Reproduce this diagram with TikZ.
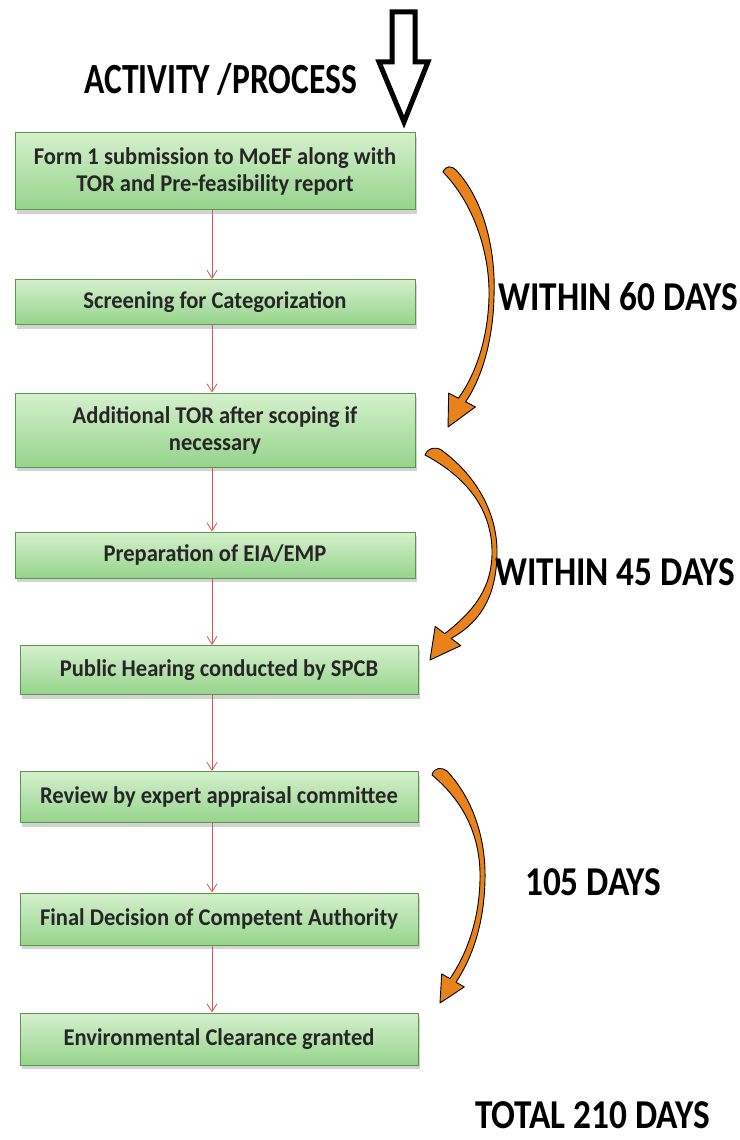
\documentclass[tikz,border=0pt]{standalone}
\usepackage{fontspec}
\setmainfont{Carlito}
\newfontfamily\boxfont[FakeStretch=0.94]{Carlito}
\newfontfamily\headfont[FakeStretch=0.78]{Carlito}
\newfontfamily\dayfont[FakeStretch=0.86]{Carlito}
\usepackage{tikz}
\usetikzlibrary{arrows.meta,shadows}

\definecolor{boxtop}{RGB}{212,240,204}
\definecolor{boxbottom}{RGB}{150,212,140}
\definecolor{boxborder}{RGB}{92,150,72}
\definecolor{flowred}{RGB}{214,84,84}
\definecolor{arrorange}{RGB}{232,130,26}

\tikzset{
  stepbox/.style={draw=boxborder, line width=1pt, top color=boxtop, bottom color=boxbottom,
    minimum width=400pt, inner sep=2pt, align=center, text=black!85,
    font=\boxfont\bfseries\fontsize{24}{27}\selectfont,
    drop shadow={opacity=0.35, shadow xshift=2pt, shadow yshift=-4pt}},
  flow/.style={draw=flowred, line width=0.8pt, -{Straight Barb[length=8pt,width=10pt]}},
  curlarrow/.style={fill=arrorange, draw=black, line width=0.9pt, line join=round},
  daylabel/.style={inner sep=0pt, font=\dayfont\bfseries\fontsize{41}{44}\selectfont}
}

\begin{document}
\begin{tikzpicture}[x=1pt,y=-1pt]
  \useasboundingbox (0,0) rectangle (739,1140);

  \node[daylabel, anchor=base west, font=\headfont\bfseries\fontsize{43}{46}\selectfont] (title) at (84,93) {ACTIVITY /PROCESS};
  % big hollow arrow
  \draw[line width=5pt, fill=white, line join=miter] (392,12) -- (415,12) -- (415,62) -- (428,62)
      -- (404,122) -- (379,62) -- (392,62) -- cycle;

  \node[stepbox, minimum height=77pt] (b1) at (215,171) {Form 1 submission to MoEF along with\\TOR and Pre-feasibility report};
  \node[stepbox, minimum height=45pt] (b2) at (215,302) {Screening for Categorization};
  \node[stepbox, minimum height=74pt] (b3) at (215,430) {Additional TOR after scoping if\\necessary};
  \node[stepbox, minimum height=46pt] (b4) at (215,555) {Preparation of EIA/EMP};
  \node[stepbox, minimum width=398pt, minimum height=49pt] (b5) at (219,670) {Public Hearing conducted by SPCB};
  \node[stepbox, minimum width=398pt, minimum height=51pt] (b6) at (219,797) {Review by expert appraisal committee};
  \node[stepbox, minimum width=398pt, minimum height=52pt] (b7) at (219,919) {Final Decision of Competent Authority};
  \node[stepbox, minimum width=398pt, minimum height=52pt] (b8) at (219,1039) {Environmental Clearance granted};

  \foreach \a/\b in {b1/b2,b2/b3,b3/b4,b4/b5,b5/b6,b6/b7,b7/b8} {
    \draw[flow] (\a.south -| 212,0) -- (\b.north -| 212,0);
  }

  % orange curved arrows
  \filldraw[curlarrow] (443,172) .. controls (446,165) and (452,166) .. (456,170)
      .. controls (484,200) and (496,250) .. (494,297)
      .. controls (493,340) and (482,378) .. (465.6,401.8)
      -- (475.4,406.9) -- (448,427) -- (448.7,393.1) -- (458.4,398.2)
      .. controls (476,374) and (488,338) .. (489,297)
      .. controls (490,255) and (475,205) .. (443,172) -- cycle;
  \filldraw[curlarrow] (425,455) .. controls (428,447) and (438,446) .. (444,452)
      .. controls (478,478) and (498,515) .. (497,555)
      .. controls (496,592) and (484,620) .. (451.2,638.4)
      -- (460.8,645.6) -- (430,660) -- (435.2,626.4) -- (444.8,633.6)
      .. controls (478,608) and (491,585) .. (492,555)
      .. controls (493,515) and (472,480) .. (425,455) -- cycle;
  \filldraw[curlarrow] (432,775) .. controls (434,767) and (442,767) .. (447,771)
      .. controls (474,800) and (486,840) .. (485,880)
      .. controls (484,925) and (472,958) .. (456,982.2)
      -- (464.3,986.9) -- (440,1003) -- (441.7,973.9) -- (450,978.6)
      .. controls (466,955) and (479,922) .. (480,880)
      .. controls (481,842) and (468,805) .. (432,775) -- cycle;

  \node[daylabel, anchor=base west] (lbl60) at (498,310) {WITHIN 60 DAYS};
  \node[daylabel, anchor=base west] (lbl45) at (495,585) {WITHIN 45 DAYS};
  \node[daylabel, anchor=base west] (lbl105) at (525,895) {105 DAYS};
  \node[daylabel, anchor=base west] (total) at (475,1128) {TOTAL 210 DAYS};
\end{tikzpicture}
\end{document}
